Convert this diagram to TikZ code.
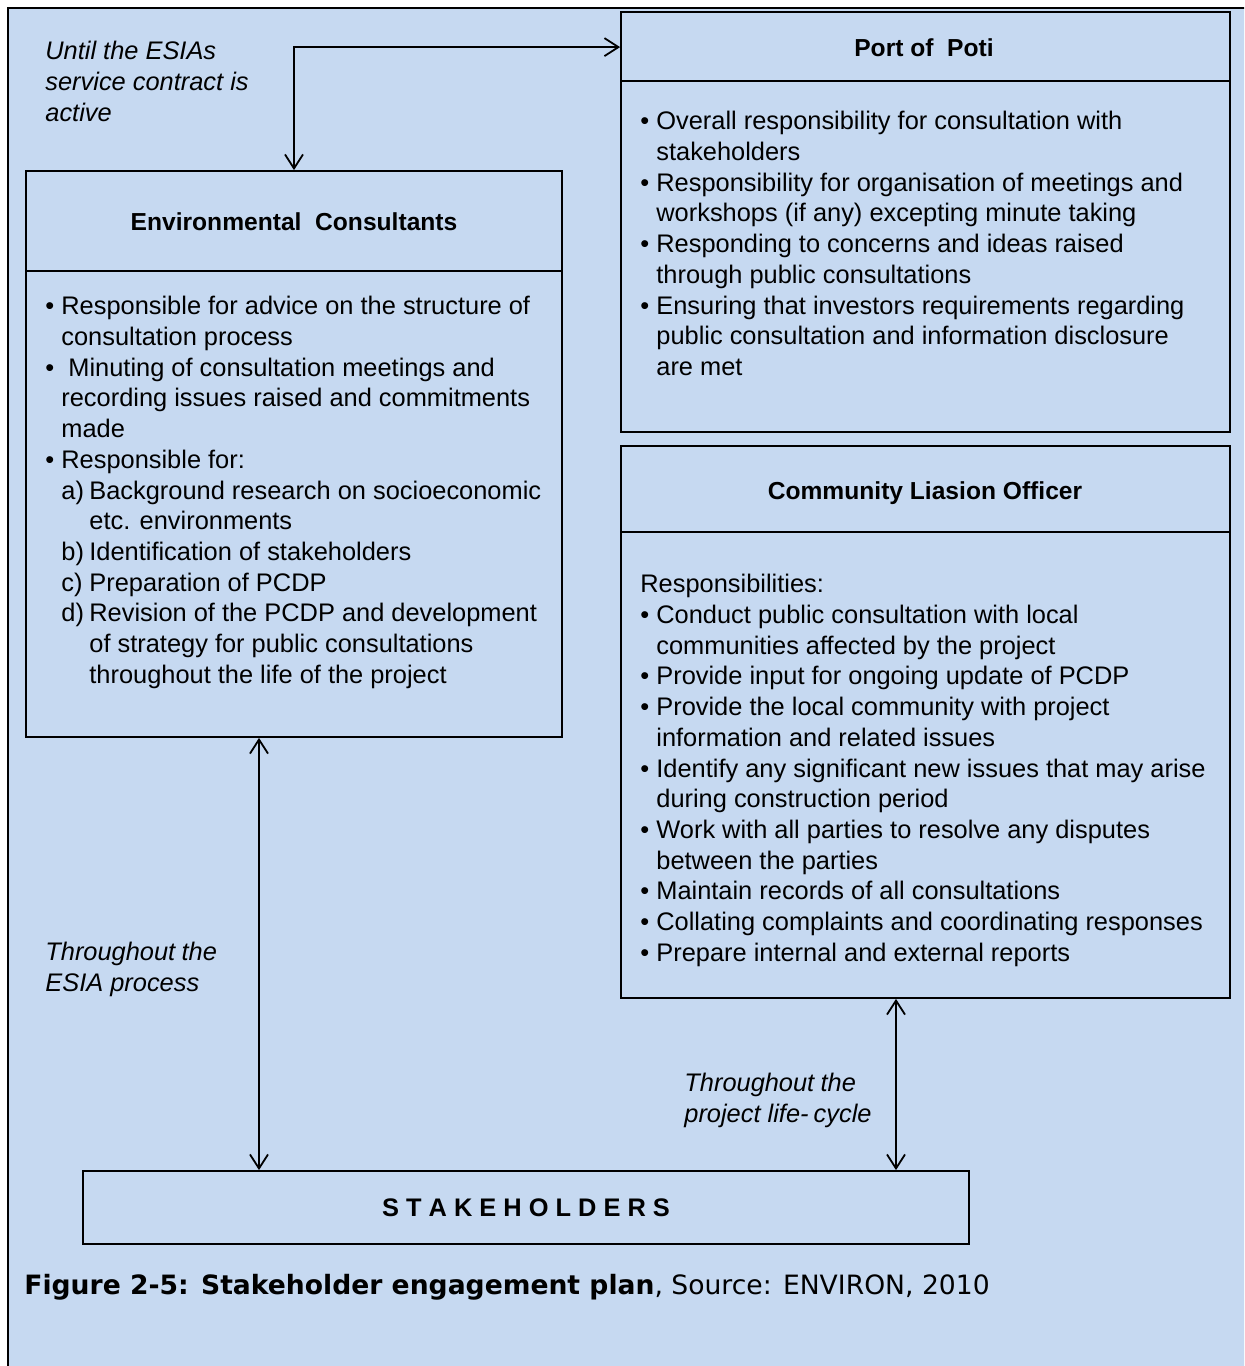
\documentclass[tikz,border=0pt]{standalone}
\usepackage{fontspec}
\setmainfont{Liberation Sans}
\newfontfamily\capfont{DejaVu Sans}
\usetikzlibrary{arrows.meta}
\definecolor{panel}{HTML}{C6D9F1}

% bullet item, continuation line, lettered sub-item and its continuation
\newcommand\bitem[1]{\makebox[8pt][l]{\textbullet}#1}
\newcommand\cont[1]{\hspace*{8pt}#1}
\newcommand\lettered[2]{\hspace*{8pt}\makebox[14pt][l]{#1}#2}
\newcommand\letteredcont[1]{\hspace*{22pt}#1}

\tikzset{barb/.tip={Straight Barb[length=7pt,width=9pt]}}

\begin{document}
\begin{tikzpicture}[x=0.5pt,y=-0.5pt,
  box/.style={draw, line width=0.9pt, inner sep=0pt},
  body/.style={anchor=north west, inner sep=0pt, align=left,
    font=\fontsize{12.7}{15.35}\selectfont},
  note/.style={anchor=north west, inner sep=0pt, align=left,
    font=\fontsize{12.7}{15.35}\selectfont\itshape},
  heading/.style={anchor=base, inner sep=0pt,
    font=\fontsize{12.3}{15}\selectfont\bfseries},
  conn/.style={line width=0.9pt}]

\useasboundingbox (0,0) rectangle (1244,1366);

% page panel and its frame
\begin{scope}
  \clip (0,0) rectangle (1244,1366);
  \fill[panel] (8,8) rectangle (1260,1380);
  \draw[line width=1.1pt] (8,1380) -- (8,8) -- (1260,8);
\end{scope}

% boxes
\node[box, minimum width=536*0.5pt, minimum height=566*0.5pt] (ec) at (294,454) {};
\node[box, minimum width=609*0.5pt, minimum height=420*0.5pt] (port) at (925.5,222) {};
\node[box, minimum width=609*0.5pt, minimum height=552*0.5pt] (clo) at (925.5,722) {};
\node[box, minimum width=886*0.5pt, minimum height=73*0.5pt,
  font=\fontsize{12.7}{15}\selectfont\bfseries] (stake) at (526,1207.5)
  {S T A K E H O L D E R S};

% header dividers
\draw[line width=0.9pt] ([yshift=-50.5pt]ec.north west) -- ([yshift=-50.5pt]ec.north east);
\draw[line width=0.9pt] ([yshift=-35pt]port.north west) -- ([yshift=-35pt]port.north east);
\draw[line width=0.9pt] ([yshift=-43.5pt]clo.north west) -- ([yshift=-43.5pt]clo.north east);

% headings
\node[heading] (ectitle) at (294,230) {Environmental\ \ Consultants};
\node[heading] (porttitle) at (924,56) {Port of\ \ Poti};
\node[heading] (clotitle) at (925,499) {Community Liasion Officer};

% box contents
\node[body] (ecbody) at (45,296) {%
\bitem{Responsible for advice on the structure of}\\
\cont{consultation process}\\
\bitem{\ Minuting of consultation meetings and}\\
\cont{recording issues raised and commitments}\\
\cont{made}\\
\bitem{Responsible for:}\\
\lettered{a)}{Background research on socioeconomic}\\
\letteredcont{etc. environments}\\
\lettered{b)}{Identification of stakeholders}\\
\lettered{c)}{Preparation of PCDP}\\
\lettered{d)}{Revision of the PCDP and development}\\
\letteredcont{of strategy for public consultations}\\
\letteredcont{throughout the life of the project}};

\node[body] (portbody) at (640,111) {%
\bitem{Overall responsibility for consultation with}\\
\cont{stakeholders}\\
\bitem{Responsibility for organisation of meetings and}\\
\cont{workshops (if any) excepting minute taking}\\
\bitem{Responding to concerns and ideas raised}\\
\cont{through public consultations}\\
\bitem{Ensuring that investors requirements\ regarding}\\
\cont{public consultation and information disclosure}\\
\cont{are met}};

\node[body] (clobody) at (640,574) {%
Responsibilities:\\
\bitem{Conduct public consultation with local}\\
\cont{communities affected by the project}\\
\bitem{Provide input for ongoing update of PCDP}\\
\bitem{Provide the local community with project}\\
\cont{information and related issues}\\
\bitem{Identify any significant new issues that may arise}\\
\cont{during construction period}\\
\bitem{Work with all parties to resolve any disputes}\\
\cont{between the parties}\\
\bitem{Maintain records of all consultations}\\
\bitem{Collating complaints and coordinating responses}\\
\bitem{Prepare internal and external reports}};

% connector labels
\node[note] (n1) at (45,41) {Until the ESIAs\\service contract is\\active};
\node[note] (n2) at (45,942) {Throughout\hspace{0.25em}the\\ESIA process};
\node[note] (n3) at (684,1073) {Throughout\hspace{0.25em}the\\project life-\hspace{0.2em}cycle};

% connectors
\coordinate (la) at (259,0);
\coordinate (ra) at (896,0);
\draw[conn, barb-barb] (ec.north) |- ([yshift=-18pt]port.north west);
\draw[conn, barb-barb] (ec.south -| la) -- (stake.north -| la);
\draw[conn, barb-barb] (clo.south -| ra) -- (stake.north -| ra);

% caption
\node[anchor=base west, inner sep=0pt, font=\capfont\fontsize{13.3}{16}\selectfont]
  (caption) at (24,1294)
  {\textbf{Figure 2-5: Stakeholder engagement plan}, Source: ENVIRON, 2010};
\end{tikzpicture}
\end{document}
